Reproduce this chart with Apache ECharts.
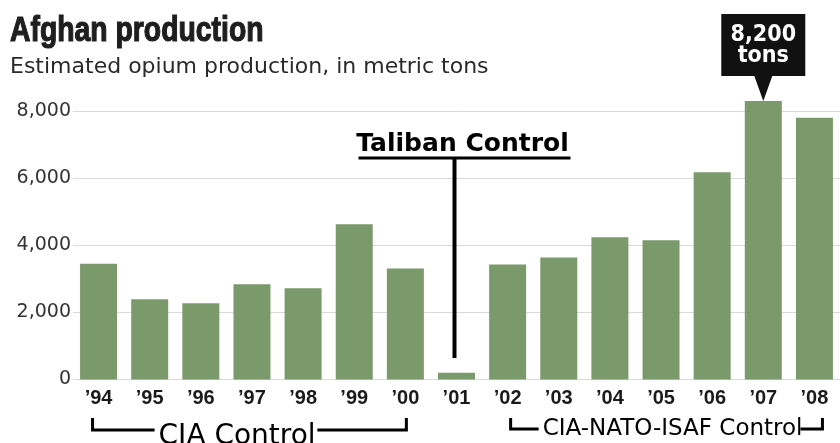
<!DOCTYPE html>
<html>
<head>
<meta charset="utf-8">
<title>Afghan production</title>
<script src="https://cdn.jsdelivr.net/npm/echarts@6/dist/echarts.min.js"></script>
<style>
  html, body { margin: 0; padding: 0; background: #fff; }
  #chart { width: 840px; height: 443px; }
</style>
</head>
<body>
<div id="chart"></div>
<script>
// opium production, metric tons
const years = ['\u201994', '\u201995', '\u201996', '\u201997', '\u201998', '\u201999', '\u201900',
  '\u201901', '\u201902', '\u201903', '\u201904', '\u201905', '\u201906', '\u201907', '\u201908'];
const tons = [3450, 2390, 2270, 2840, 2720, 4630, 3310, 200, 3430, 3640, 4240, 4150, 6180, 8300, 7800];
const yMin = 0;
const yMax = 8000;   // last labelled tick
const yStep = 2000;
const peakText = ['8,200', 'tons'];

const green = '#7a9a6b';

const div = document.getElementById('chart');
const myChart = echarts.init(div, null, { renderer: 'canvas' });

const peak = tons.indexOf(Math.max(...tons));

const option = {
  animation: false,
  backgroundColor: '#fff',
  title: {
    text: 'Estimated opium production, in metric tons',
    left: 10, top: 56, padding: 0,
    textStyle: { fontFamily: 'DejaVu Sans', fontWeight: 'normal', fontSize: 22, color: '#2a2a2a' }
  },
  // one step of headroom above the last tick, so the peak callout fits
  grid: { left: 73, right: -8, top: 44, bottom: 63.5 },
  xAxis: {
    type: 'category',
    data: years,
    axisLine: { show: false },
    axisTick: { show: false },
    axisLabel: {
      interval: 0, margin: 9,
      fontFamily: 'Liberation Sans', fontWeight: 'bold', fontSize: 20, color: '#1a1a1a'
    }
  },
  yAxis: {
    type: 'value',
    min: yMin, max: yMax + yStep, interval: yStep,
    axisLine: { show: false },
    axisTick: { show: false },
    axisLabel: {
      margin: 2,
      fontFamily: 'DejaVu Sans', fontSize: 19, color: '#333',
      formatter: v => (v > yMax ? '' : v.toLocaleString('en-US'))
    },
    splitLine: {
      showMaxLine: false,
      lineStyle: { color: '#d9d9d9', width: 1 }
    }
  },
  series: [{
    type: 'bar',
    data: tons,
    barWidth: 37,
    itemStyle: { color: green },
    markPoint: {
      silent: true,
      symbol: 'path://M0,0H84V62H51L42,87L33,62H0Z',
      symbolSize: [84, 87],
      symbolOffset: [0, '-50%'],
      itemStyle: { color: '#111' },
      label: {
        show: true,
        position: 'inside',
        offset: [0, -12],
        formatter: peakText.join('\n'),
        fontFamily: 'DejaVu Sans Condensed', fontWeight: 'bold', fontSize: 23, lineHeight: 21,
        color: '#fff'
      },
      data: [{ coord: [years[peak], tons[peak]] }]
    }
  }]
};

myChart.setOption(option);

// headline, era brackets and the Taliban marker, placed from the category axis
const bx = i => myChart.convertToPixel({ xAxisIndex: 0 }, years[i]);
const ink = '#000';
const line = (pts, w) => ({
  type: 'polyline', silent: true,
  shape: { points: pts },
  style: { stroke: ink, lineWidth: w, fill: null }
});
const label = (txt, x, y, font, align) => ({
  type: 'text', silent: true,
  style: { text: txt, x: x, y: y, font: font, fill: ink, textAlign: align, textVerticalAlign: 'middle' }
});

const tx = bx(7) - 2;
const ciaL = bx(0) - 6, ciaR = bx(6) + 1;
const natoL = bx(8) + 3, natoR = bx(14) + 8;

myChart.setOption({
  graphic: [
    {
      type: 'text', silent: true,
      x: 10, y: 31, scaleX: 0.81,
      style: {
        text: 'Afghan production', font: "bold 35px 'Liberation Sans'",
        fill: '#1e1e1e', stroke: '#1e1e1e', lineWidth: 1.2,
        textAlign: 'left', textVerticalAlign: 'middle'
      }
    },

    label('Taliban Control', tx + 8, 144, "bold 25px 'DejaVu Sans'", 'center'),
    line([[tx - 96, 158], [tx + 116, 158]], 3),
    line([[tx, 158], [tx, 358]], 4),

    line([[ciaL, 418], [ciaL, 430], [ciaL + 62, 430]], 3),
    label('CIA Control', ciaL + 66, 437, "28px 'DejaVu Sans'", 'left'),
    line([[ciaR - 89, 430], [ciaR, 430], [ciaR, 418]], 3),

    line([[natoL, 418], [natoL, 429], [natoL + 28, 429]], 3),
    label('CIA-NATO-ISAF Control', natoL + 32, 429, "23px 'DejaVu Sans'", 'left'),
    line([[natoR - 22, 429], [natoR, 429], [natoR, 418]], 3)
  ]
});
</script>
</body>
</html>
